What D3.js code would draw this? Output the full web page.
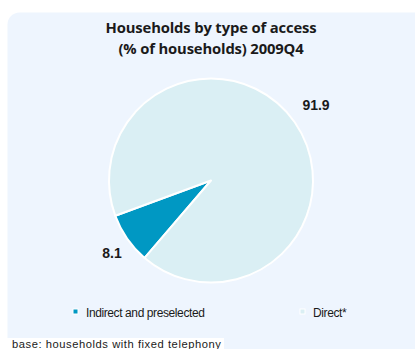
<!DOCTYPE html>
<html>
<head>
<meta charset="utf-8">
<script src="https://cdn.jsdelivr.net/npm/d3@7"></script>
<style>
  html, body { margin: 0; padding: 0; background: #ffffff; }
  svg { display: block; }
</style>
</head>
<body>
<div id="chart"></div>
<script>
// Households by type of access, 2009Q4 (% of households)
const categories = ["Indirect and preselected", "Direct*"];
const values = [8.1, 91.9];
const colors = ["#0098C3", "#DAEFF4"];
const titleLines = ["Households by type of access", "(% of households) 2009Q4"];
const footnote = "base: households with fixed telephony";

const W = 415, H = 349;
const svg = d3.select("#chart").append("svg")
  .attr("width", W).attr("height", H);

// panel background
svg.append("rect")
  .attr("x", 7.5).attr("y", 12.5)
  .attr("width", 420).attr("height", 360)
  .attr("rx", 12).attr("ry", 12)
  .attr("fill", "#EEF5FE");

// title
svg.append("g").selectAll("text")
  .data(titleLines)
  .join("text")
  .attr("x", 211)
  .attr("y", (d, i) => 32.5 + i * 21)
  .attr("text-anchor", "middle")
  .attr("font-family", "'Open Sans', Lato, sans-serif")
  .attr("font-weight", "bold")
  .attr("font-size", 14.8)
  .attr("letter-spacing", -0.15)
  .attr("fill", "#1a1a1a")
  .text(d => d);

// pie
const cx = 211, cy = 180.5, r = 102;
const pie = d3.pie().sort(null).value(d => d)
  .startAngle(220.6 * Math.PI / 180)
  .endAngle(580.6 * Math.PI / 180);
const arcs = pie(values);
const arc = d3.arc().innerRadius(0).outerRadius(r);

const g = svg.append("g").attr("transform", `translate(${cx},${cy})`);
g.selectAll("path")
  .data(arcs)
  .join("path")
  .attr("d", arc)
  .attr("fill", (d, i) => colors[i])
  .attr("stroke", "#ffffff")
  .attr("stroke-width", 2)
  .attr("stroke-linejoin", "round");

// value labels
const labelPos = [[112, 258], [316, 110]];
svg.append("g").selectAll("text")
  .data(arcs)
  .join("text")
  .attr("x", (d, i) => labelPos[i][0])
  .attr("y", (d, i) => labelPos[i][1])
  .attr("text-anchor", "middle")
  .attr("font-family", "'Liberation Sans', Arial, sans-serif")
  .attr("font-weight", "bold")
  .attr("font-size", 14)
  .attr("fill", "#1a1a1a")
  .text(d => d3.format(".1f")(d.data));

// legend
const legendX = [73, 300];
const lg = svg.append("g").selectAll("g")
  .data(categories)
  .join("g")
  .attr("transform", (d, i) => `translate(${legendX[i]},312)`);
lg.append("rect")
  .attr("x", 0).attr("y", -3)
  .attr("width", 5).attr("height", 5)
  .attr("fill", (d, i) => colors[i])
  .attr("stroke", "#ffffff").attr("stroke-width", 1);
lg.append("text")
  .attr("x", 13).attr("y", 4.5)
  .attr("font-family", "'Liberation Sans', Arial, sans-serif")
  .attr("font-size", 12)
  .attr("letter-spacing", -0.4)
  .attr("fill", "#1a1a1a")
  .text(d => d);

// footnote
svg.append("rect")
  .attr("x", 0).attr("y", 338)
  .attr("width", 224).attr("height", 12)
  .attr("fill", "#ffffff");
svg.append("text")
  .attr("x", 12).attr("y", 347.5)
  .attr("font-family", "'Liberation Sans', Arial, sans-serif")
  .attr("font-size", 11.2)
  .attr("letter-spacing", 0.55)
  .attr("fill", "#1a1a1a")
  .text(footnote);
</script>
</body>
</html>
